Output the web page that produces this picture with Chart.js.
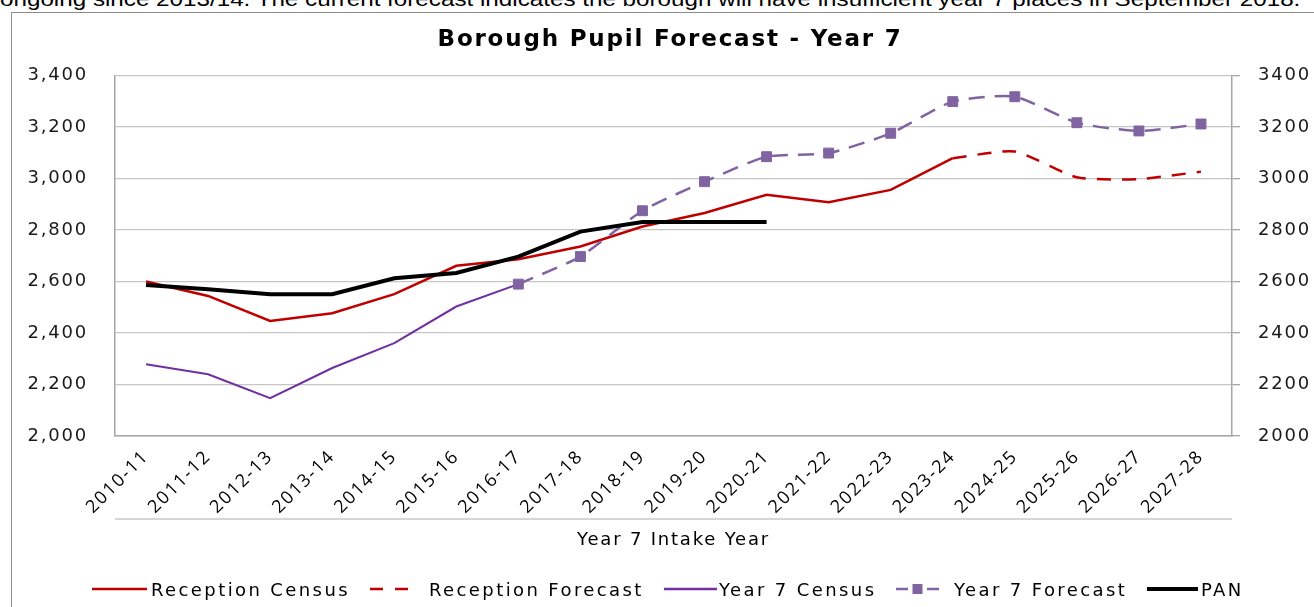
<!DOCTYPE html>
<html><head><meta charset="utf-8">
<script src="https://cdn.jsdelivr.net/npm/chart.js@4.4.1/dist/chart.umd.min.js"></script>
<style>
html,body{margin:0;padding:0;background:#fff;width:1314px;height:607px;overflow:hidden;position:relative}
#topText{position:absolute;left:0;top:-12px;font-family:"Liberation Sans",Arial,sans-serif;font-size:22px;line-height:22px;white-space:nowrap;color:#000;transform-origin:0 0}
#frame{position:absolute;left:11px;top:12px;width:1400px;height:700px;border:1.5px solid #8c8c8c;box-sizing:border-box}
#chart{position:absolute;left:0;top:0}
.lg{position:absolute;top:578px;height:22px;display:flex;align-items:center;font-family:"DejaVu Sans",sans-serif;font-size:18px;letter-spacing:2.4px;color:#000;white-space:nowrap}
.lg svg{display:block}
</style></head>
<body>
<div id="topText">ongoing since 2013/14. The current forecast indicates the borough will have insufficient year 7 places in September 2018.</div>
<div id="frame"></div>
<canvas id="chart" width="1314" height="607"></canvas>
<div id="legend"></div>
<script>
// ---- data ----
const categories = ['2010-11','2011-12','2012-13','2013-14','2014-15','2015-16','2016-17','2017-18','2018-19','2019-20','2020-21','2021-22','2022-23','2023-24','2024-25','2025-26','2026-27','2027-28'];
const receptionCensus   = [2600, 2544, 2447, 2477, 2551, 2661, 2687, 2736, 2814, 2866, 2937, 2908, 2956, 3079, null, null, null, null];
const receptionForecast = [null, null, null, null, null, null, null, null, null, null, null, null, null, 3079, 3105, 3005, 2998, 3027];
const year7Census       = [2279, 2240, 2147, 2264, 2361, 2503, 2590, null, null, null, null, null, null, null, null, null, null, null];
const year7Forecast     = [null, null, null, null, null, null, 2590, 2697, 2875, 2988, 3085, 3099, 3176, 3299, 3318, 3217, 3185, 3212];
const pan               = [2587, 2570, 2551, 2551, 2613, 2633, 2697, 2794, 2831, 2831, 2831, null, null, null, null, null, null, null];
const yTickValues = [2000, 2200, 2400, 2600, 2800, 3000, 3200, 3400];
const seriesNames = ['Reception Census', 'Reception Forecast', 'Year 7 Census', 'Year 7 Forecast', 'PAN'];

const RED = '#C00000', PURPLE = '#7030A0', PURPLE_F = '#8064A2', BLACK = '#000000';

// ---- top text fit (horizontally stretched like the source image) ----
(function(){
  const el = document.getElementById('topText');
  const w = el.getBoundingClientRect().width;
  const stretch = 1.2;
  const fs = 22 * 1301 / (w * stretch);
  el.style.fontSize = fs + 'px';
  el.style.lineHeight = fs + 'px';
  el.style.transform = 'scaleX(' + stretch + ')';
  el.style.top = (6.5 - 0.8465 * fs) + 'px';
})();

const spacingPlugin = {
  id: 'spacing',
  beforeUpdate(chart){ chart.ctx.letterSpacing = '1.8px'; },
  beforeDraw(chart){ chart.ctx.letterSpacing = '1.8px'; }
};
const underLine = {
  id: 'underLine',
  afterDraw(chart){
    const {ctx, chartArea} = chart;
    const y = chartArea.bottom + 83;
    ctx.save();
    ctx.strokeStyle = '#c8c8c8'; ctx.lineWidth = 1.5;
    ctx.beginPath(); ctx.moveTo(chartArea.left, y); ctx.lineTo(chartArea.right, y); ctx.stroke();
    ctx.restore();
  }
};

const tickFont = {family: 'DejaVu Sans', size: 18};
const xTickFont = {family: 'Open Sans', size: 18};
const gridColor = '#c6c6c6';
const axisColor = '#a6a6a6';

new Chart(document.getElementById('chart'), {
  type: 'line',
  data: {
    labels: categories,
    datasets: [
      {label: seriesNames[4], data: pan, borderColor: BLACK, backgroundColor: BLACK, borderWidth: 4, pointRadius: 0, tension: 0, order: 0, yAxisID: 'y'},
      {label: seriesNames[0], data: receptionCensus, borderColor: RED, backgroundColor: RED, borderWidth: 2.5, pointRadius: 0, tension: 0, order: 2, yAxisID: 'y'},
      {label: seriesNames[1], data: receptionForecast, borderColor: RED, backgroundColor: RED, borderWidth: 2.5, borderDash: [14, 11], pointRadius: 0, tension: 0.2, order: 3, yAxisID: 'y'},
      {label: seriesNames[2], data: year7Census, borderColor: PURPLE, backgroundColor: PURPLE, borderWidth: 2, pointRadius: 0, tension: 0, order: 4, yAxisID: 'y'},
      {label: seriesNames[3], data: year7Forecast, borderColor: PURPLE_F, backgroundColor: PURPLE_F, borderWidth: 2.5, borderDash: [16, 10], pointStyle: 'rect', pointRadius: 7, pointBorderWidth: 1, pointBackgroundColor: PURPLE_F, pointBorderColor: PURPLE_F, tension: 0.2, order: 1, yAxisID: 'y'}
    ]
  },
  options: {
    responsive: false,
    animation: false,
    events: [],
    layout: {padding: {left: 26, right: 0, top: 0, bottom: 40}},
    plugins: {
      legend: {display: false},
      tooltip: {enabled: false},
      title: {display: true, text: 'Borough Pupil Forecast - Year 7', color: '#000',
        font: {family: 'DejaVu Sans', size: 23, weight: 'bold'}, padding: {top: 26, bottom: 22}}
    },
    scales: {
      x: {
        type: 'category', offset: true,
        grid: {display: false, drawTicks: false},
        border: {display: true, color: axisColor, width: 1.5},
        ticks: {autoSkip: false, minRotation: 45, maxRotation: 45, padding: 10, color: '#000', font: xTickFont},
        title: {display: true, text: 'Year 7 Intake Year', color: '#000', font: {family: 'DejaVu Sans', size: 18}, padding: {top: 0, bottom: 16}},
        afterFit(s){ s.height = 131; }
      },
      y: {
        position: 'left', min: 2000, max: 3400,
        afterBuildTicks(s){ s.ticks = yTickValues.map(v => ({value: v})); },
        ticks: {padding: 27, color: '#1a1a1a', font: tickFont, callback: v => v.toLocaleString('en-US')},
        grid: {color: gridColor, lineWidth: 1.3, drawTicks: false},
        border: {display: true, color: axisColor, width: 1.5},
        afterFit(s){ s.width = 89; }
      },
      y2: {
        position: 'right', min: 2000, max: 3400,
        afterBuildTicks(s){ s.ticks = yTickValues.map(v => ({value: v})); },
        ticks: {padding: 18, color: '#1a1a1a', font: tickFont, callback: v => String(v)},
        grid: {drawOnChartArea: false, drawTicks: true, tickLength: 8, color: axisColor, lineWidth: 1.3},
        border: {display: true, color: axisColor, width: 1.5},
        afterFit(s){ s.width = 82; }
      }
    }
  },
  plugins: [spacingPlugin, underLine]
});

// ---- HTML legend ----
const legendItems = [
  {name: seriesNames[0], x: 92,   len: 55, gap: 4,  color: RED,      width: 2.5, dash: null},
  {name: seriesNames[1], x: 370,  len: 43, gap: 16, color: RED,      width: 2.5, dash: '13 12'},
  {name: seriesNames[2], x: 664,  len: 53, gap: 2,  color: PURPLE,   width: 2.5, dash: null},
  {name: seriesNames[3], x: 896,  len: 43, gap: 15, color: PURPLE_F, width: 2.5, dash: '12 19', marker: true},
  {name: seriesNames[4], x: 1147, len: 51, gap: 3,  color: BLACK,    width: 4,   dash: null}
];
const lg = document.getElementById('legend');
legendItems.forEach(it => {
  const d = document.createElement('div');
  d.className = 'lg';
  d.style.left = it.x + 'px';
  const ns = 'http://www.w3.org/2000/svg';
  const svg = document.createElementNS(ns, 'svg');
  svg.setAttribute('width', it.len); svg.setAttribute('height', 20);
  svg.style.marginRight = it.gap + 'px';
  const ln = document.createElementNS(ns, 'line');
  ln.setAttribute('x1', 0); ln.setAttribute('x2', it.len); ln.setAttribute('y1', 10); ln.setAttribute('y2', 10);
  ln.setAttribute('stroke', it.color); ln.setAttribute('stroke-width', it.width);
  if (it.dash) ln.setAttribute('stroke-dasharray', it.dash);
  svg.appendChild(ln);
  if (it.marker) {
    const r = document.createElementNS(ns, 'rect');
    r.setAttribute('x', it.len/2 - 5); r.setAttribute('y', 5); r.setAttribute('width', 10); r.setAttribute('height', 10);
    r.setAttribute('fill', it.color);
    svg.appendChild(r);
  }
  d.appendChild(svg);
  const sp = document.createElement('span');
  sp.textContent = it.name;
  d.appendChild(sp);
  lg.appendChild(d);
});
</script>
</body></html>
